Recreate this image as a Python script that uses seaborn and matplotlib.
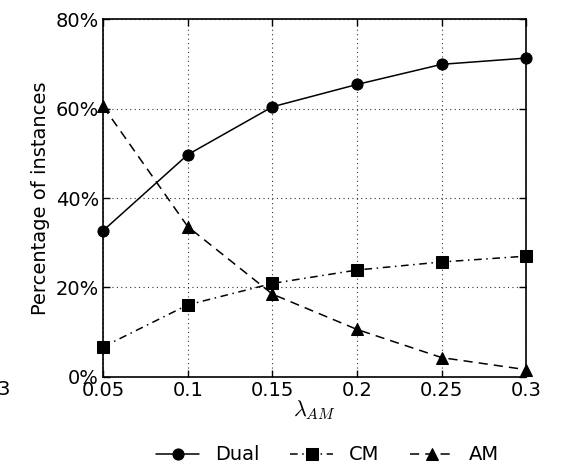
import matplotlib
matplotlib.use("Agg")
import matplotlib.pyplot as plt
import seaborn as sns
import pandas as pd
from matplotlib.ticker import FuncFormatter

lambdas = [0.05, 0.1, 0.15, 0.2, 0.25, 0.3]
dual = [32.7, 49.7, 60.4, 65.4, 69.9, 71.3]
cm = [6.7, 16.1, 20.9, 23.9, 25.7, 27.0]
am = [60.5, 33.6, 18.5, 10.6, 4.3, 1.6]
series_names = ["Dual", "CM", "AM"]
x_ticks = [0.05, 0.1, 0.15, 0.2, 0.25, 0.3]
x_tick_labels = ["0.05", "0.1", "0.15", "0.2", "0.25", "0.3"]
y_ticks = [0, 20, 40, 60, 80]

sns.set_theme(style="ticks")
plt.rcParams['font.family'] = ['DejaVu Sans']
plt.rcParams['mathtext.fontset'] = 'cm'
plt.rcParams['xtick.direction'] = 'in'
plt.rcParams['ytick.direction'] = 'in'
for k in ['text.color', 'axes.labelcolor', 'xtick.color', 'ytick.color', 'axes.edgecolor']:
    plt.rcParams[k] = 'black'

df = pd.DataFrame({
    "lam": lambdas * 3,
    "val": dual + cm + am,
    "series": [series_names[0]] * 6 + [series_names[1]] * 6 + [series_names[2]] * 6,
})

fig = plt.figure(figsize=(5.76, 4.67), dpi=100)
ax = fig.add_axes([0.179, 0.193, 0.735, 0.766])

styles = {"Dual": ("-", "o", 8), "CM": ((0, (5, 3, 1, 3)), "s", 8), "AM": ((0, (6, 4)), "^", 8)}
for name in series_names:
    sub = df[df["series"] == name]
    ls, mk, ms = styles[name]
    sns.lineplot(data=sub, x="lam", y="val", ax=ax, color="black", linestyle=ls,
                 marker=mk, markersize=ms, markeredgecolor="black", linewidth=1.1,
                 label=name, legend=False, clip_on=False, zorder=3)

ax.set_xlim(0.05, 0.3)
ax.set_ylim(0, 80)
ax.set_xticks(x_ticks)
ax.set_xticklabels(x_tick_labels)
ax.set_yticks(y_ticks)
ax.yaxis.set_major_formatter(FuncFormatter(lambda v, p: f"{int(v)}%"))
ax.tick_params(labelsize=14, length=5, width=1, colors="black", top=True, right=True, pad=3)
ax.grid(True, linestyle=(0, (1, 3)), color="black", linewidth=0.8, alpha=0.8)
for s in ax.spines.values():
    s.set_color("black")
    s.set_linewidth(1.2)
ax.set_xlabel(r"$\lambda_{AM}$", fontsize=16, labelpad=-1)
ax.set_ylabel("Percentage of instances", fontsize=14, labelpad=4)

lines = ax.get_lines()
ax.legend(lines, series_names, loc="upper center", bbox_to_anchor=(0.53, -0.17),
          ncol=3, frameon=False, fontsize=14, handlelength=2.2, columnspacing=1.6,
          handletextpad=0.8, borderaxespad=0)

fig.text(-0.004, 0.165, "3", fontsize=14, ha="left", va="center")

fig.savefig("out.png", dpi=100)
